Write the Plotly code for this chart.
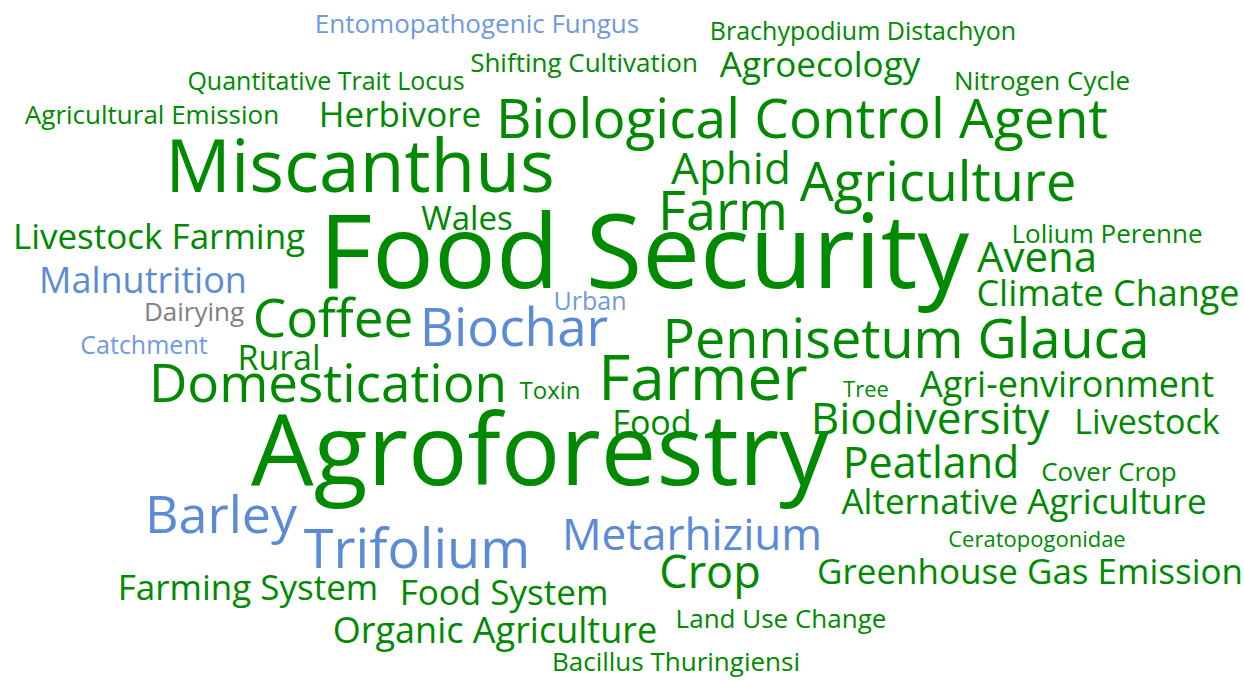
import plotly.graph_objects as go

# ---- data: keywords and their weights (font size in px) ----
words = [
    "Entomopathogenic Fungus", "Brachypodium Distachyon", "Shifting Cultivation",
    "Agroecology", "Quantitative Trait Locus", "Nitrogen Cycle", "Agricultural Emission",
    "Herbivore", "Biological Control Agent", "Miscanthus", "Aphid", "Agriculture",
    "Farm", "Wales", "Livestock Farming", "Food Security", "Lolium Perenne", "Avena",
    "Malnutrition", "Climate Change", "Urban", "Dairying", "Coffee", "Biochar",
    "Pennisetum Glauca", "Catchment", "Rural", "Domestication", "Toxin", "Farmer",
    "Tree", "Agri-environment", "Food", "Biodiversity", "Livestock", "Agroforestry",
    "Peatland", "Cover Crop", "Alternative Agriculture", "Barley", "Ceratopogonidae",
    "Metarhizium", "Trifolium", "Crop", "Greenhouse Gas Emission", "Farming System",
    "Food System", "Organic Agriculture", "Land Use Change", "Bacillus Thuringiensi",
]
weights = [
    26, 25, 26, 35, 25, 26, 26, 35, 55, 73, 44, 54,
    54, 33, 35, 103, 26, 42, 36, 36, 25, 26, 53, 53,
    54, 25, 34, 53, 24, 62, 22, 36, 34, 44, 34, 99,
    43, 26, 35, 52, 22, 44, 54, 45, 35, 35,
    35, 36, 26, 26,
]
# colour group: g = green, b = blue, l = light blue, k = grey
groups = [
    "l", "g", "g", "g", "g", "g", "g", "g", "g", "g", "g", "g",
    "g", "g", "g", "g", "g", "g", "b", "g", "l", "k", "g", "b",
    "g", "l", "g", "g", "g", "g", "g", "g", "g", "g", "g", "g",
    "g", "g", "g", "b", "g", "b", "b", "g", "g", "g",
    "g", "g", "g", "g",
]

# ---- layout of the cloud: horizontal centre and baseline of each word (px) ----
word_cx = [
    477, 863, 584, 820, 326, 1042, 152, 400, 802, 360, 731, 938,
    723, 467, 159, 644, 1107, 1037, 143, 1108, 590, 194, 333, 514,
    906, 144, 279, 328, 550, 703, 866, 1067, 652, 930, 1147, 540,
    931, 1109, 1024, 221, 1037, 692, 417, 710, 1030, 248,
    504, 495, 781, 676,
]
word_base = [
    33, 40, 72, 77, 90, 90, 124, 127, 138, 192, 184, 201,
    230, 230, 249, 288, 243, 272, 293, 306, 310, 321, 337, 346,
    358, 354, 370, 402, 399, 400, 397, 397, 435, 434, 434, 485,
    478, 481, 514, 533, 547, 550, 568, 588, 584, 600,
    605, 643, 628, 671,
]

palette = {"g": "#008a00", "b": "#5b8bd6", "l": "#7099e0", "k": "#808080"}
colors = [palette[g] for g in groups]

# single-line text is drawn with its baseline ~0.25em below the point
word_cy = [b - 0.25 * s for b, s in zip(word_base, weights)]

fig = go.Figure(
    go.Scatter(
        x=word_cx,
        y=word_cy,
        mode="text",
        text=words,
        textposition="middle center",
        textfont=dict(family="Open Sans", size=weights, color=colors),
        hoverinfo="text",
    )
)
fig.update_layout(
    width=1244,
    height=680,
    margin=dict(l=0, r=0, t=0, b=0),
    paper_bgcolor="white",
    plot_bgcolor="white",
    showlegend=False,
    xaxis=dict(range=[0, 1244], visible=False, fixedrange=True),
    yaxis=dict(range=[680, 0], visible=False, fixedrange=True),
)
fig.write_html(
    "out.html",
    config={"displayModeBar": False},
    post_script="document.body.style.margin='0';document.body.style.padding='0';",
)
